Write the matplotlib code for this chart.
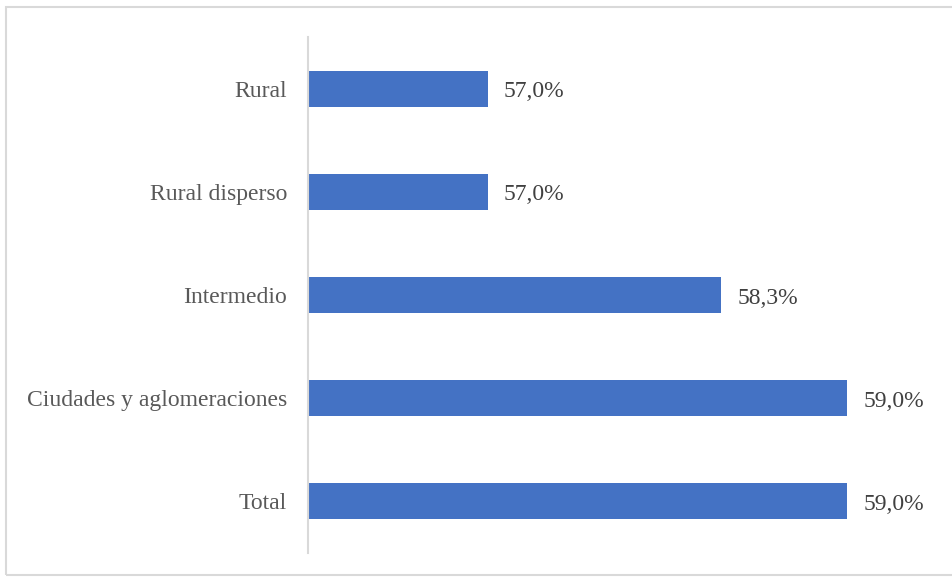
import matplotlib.pyplot as plt
from matplotlib.patches import Rectangle

categorias = ['Total', 'Ciudades y aglomeraciones', 'Intermedio', 'Rural disperso', 'Rural']
valores = [59.0, 59.0, 58.3, 57.0, 57.0]

plt.rcParams['font.family'] = ['Liberation Serif', 'DejaVu Serif']
gris = '#595959'

fig = plt.figure(figsize=(9.52, 5.78), dpi=100)
ax = fig.add_axes([308 / 952, 25 / 578, 627 / 952, 516 / 578])

pos = range(len(categorias))
ax.barh(pos, valores, height=0.35, color='#4472C4', left=0)
ax.set_xlim(56, 59.49)
ax.set_ylim(-0.5, 4.5)

for y, v in zip(pos, valores):
    ax.text(v + 0.09, y - 0.03, f'{v:.1f}%'.replace('.', ','), va='center', ha='left',
            fontsize=17, color='#404040')

ax.set_yticks(list(pos))
ax.set_yticklabels(categorias, fontsize=17, color=gris)
ax.tick_params(axis='y', length=0, pad=15)
ax.set_xticks([])
for s in ['top', 'right', 'bottom']:
    ax.spines[s].set_visible(False)
ax.spines['left'].set_color('#d9d9d9')
ax.spines['left'].set_linewidth(1.5)

# marco exterior del gráfico
fig.patches.append(Rectangle((6 / 952, 3 / 578), 960 / 952, 568 / 578,
                             transform=fig.transFigure, fill=False,
                             edgecolor='#d9d9d9', linewidth=1.5))

fig.savefig('out.png', dpi=100)
